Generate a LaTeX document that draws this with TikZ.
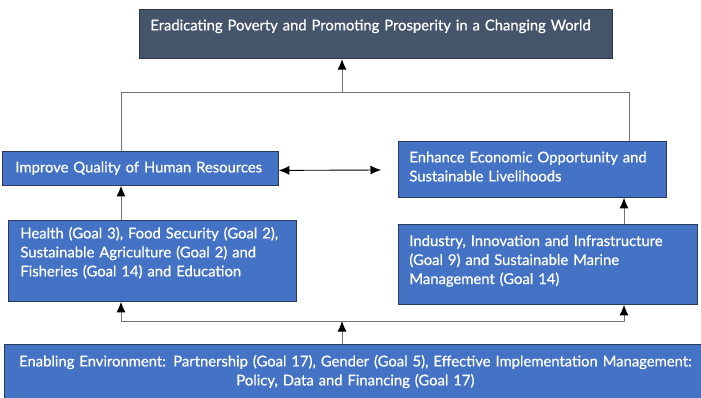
\documentclass[tikz,border=0pt]{standalone}
\usepackage{fontspec}
\setmainfont{Lato}
\newfontfamily\boxfont{Lato}[FakeBold=0.7]
\usepackage{xcolor}
\usetikzlibrary{calc}
\usetikzlibrary{arrows.meta}
\tikzset{>={Latex[black,length=10.5pt,width=9pt]}}
\definecolor{boxblue}{HTML}{4472C4}
\definecolor{boxedge}{HTML}{2B3A5C}
\definecolor{goalfill}{HTML}{44546A}
\definecolor{goaledge}{HTML}{2E3846}
\colorlet{linegray}{black!55}
\tikzstyle{sdgbox}=[draw=boxedge,line width=0.8pt,fill=boxblue,text=white,
  anchor=north west,inner ysep=0pt,align=left,font=\boxfont\fontsize{14.8}{19}\selectfont]
\tikzstyle{link}=[line width=0.9pt,linegray]

\begin{document}
\begin{tikzpicture}[x=1pt,y=1pt]
  \useasboundingbox (0,0) rectangle (701,-398);
  \coordinate (xL) at (121,0); % left risers
  \coordinate (xR) at (629,0); % right riser to goal
  \coordinate (xI) at (624,0); % right risers below
  \coordinate (merge) at (342,-92.7); % join under goal
  \coordinate (split) at (342,-321); % join over base
  \coordinate (gapR) at (381,-170); % free end of double arrow

  % BOXES
  \node[sdgbox,fill=goalfill,draw=goaledge,inner xsep=11pt,text width=451pt,
    text height=20.7pt,text depth=28.3pt] (goal) at (139,-9.3)
    {Eradicating Poverty and Promoting Prosperity in a Changing World};
  \node[sdgbox,inner xsep=13pt,text width=250pt,
    text height=21pt,text depth=13pt] (human) at (2,-151)
    {Improve Quality of Human Resources};
  \node[sdgbox,inner xsep=11pt,text width=246pt,
    text height=21pt,text depth=35pt] (econ) at (398,-141)
    {Enhance Economic Opportunity and\\ Sustainable Livelihoods};
  \node[sdgbox,inner xsep=12pt,text width=264pt,
    text height=18pt,text depth=63pt] (health) at (8,-220)
    {Health (Goal 3), Food Security (Goal 2),\\ Sustainable Agriculture (Goal 2) and\\ Fisheries (Goal 14) and Education};
  \node[sdgbox,inner xsep=11pt,text width=277pt,
    text height=21.6pt,text depth=58.4pt] (industry) at (398,-224)
    {Industry, Innovation and Infrastructure\\ (Goal 9) and Sustainable Marine\\ Management (Goal 14)};
  \node[sdgbox,inner xsep=0pt,text width=702.8pt,align=center,
    text height=22pt,text depth=38pt] (enable) at (3.6,-344)
    {Enabling Environment: Partnership (Goal 17), Gender (Goal 5), Effective Implementation Management:\\ Policy, Data and Financing (Goal 17)};

  % LINKS
  \draw[link] (human.north -| xL) |- (merge) -| (econ.north -| xR);
  \draw[link,->] (merge) -- (goal.south -| merge);
  \draw[link,black,<->] ([yshift=-2pt]human.east) -- (gapR);
  \draw[link,->] (health.north -| xL) -- (human.south -| xL);
  \draw[link,->] (industry.north -| xI) -- (econ.south -| xI);
  \draw[link,->] (enable.north -| split) -- (split);
  \draw[link,->] (split) -| (health.south -| xL);
  \draw[link,->] (split) -| (industry.south -| xI);
\end{tikzpicture}
\end{document}
